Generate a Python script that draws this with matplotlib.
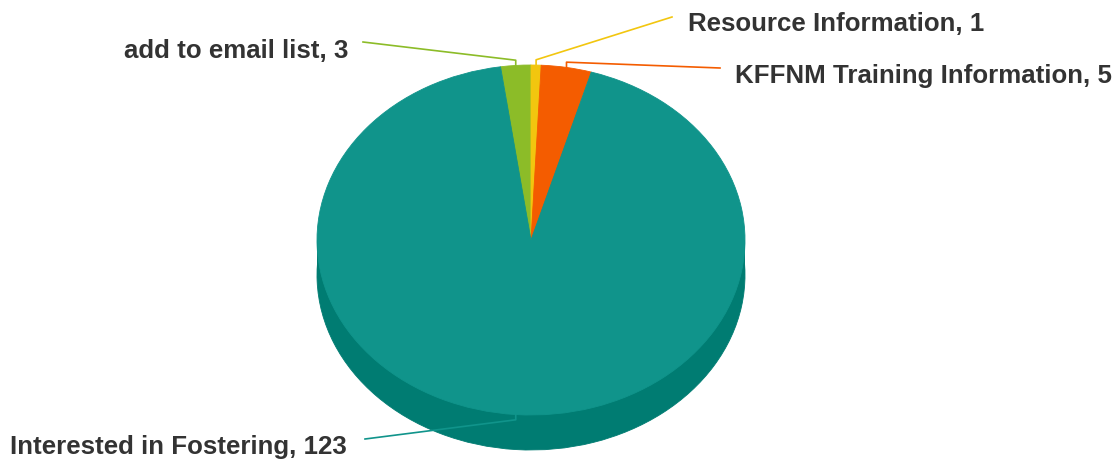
import numpy as np
import matplotlib
matplotlib.use('Agg')
import matplotlib.pyplot as plt
from matplotlib.patches import Rectangle

# slice data, in drawing order (clockwise)
labels = ['add to email list', 'Resource Information', 'KFFNM Training Information', 'Interested in Fostering']
values = [3, 1, 5, 123]
top_colors = ['#8cbc28', '#f2c60f', '#f45c00', '#10948b']
side_colors = ['#6f9a1c', '#c9a20a', '#c94b00', '#007c72']

# label text positions in pixels (left edge, vertical centre) and leader line ends
label_pos = [(124, 51), (688, 24), (735, 76), (10, 447)]
line_end = [(363, 42), (672, 17), (720, 68), (365, 439)]

W, H = 1120, 465
cx, cy = 531, 240      # pie centre in pixels
rx, ry = 214, 175      # ellipse radii of top face
depth = 35             # thickness in pixels

fig = plt.figure(figsize=(W / 100, H / 100), dpi=100)
ax = fig.add_axes([0, 0, 1, 1])


def to_data(x, y):
    return (x - cx) / rx, (cy - y) / ry


total = sum(values)
start = 90 + 360 * values[0] / total

# side (bottom layer) of the 3d pie
side, _ = ax.pie(values, colors=side_colors, startangle=start, counterclock=False,
                 center=(0, -depth / ry), radius=1)
for w, c in zip(side, side_colors):
    w.set_edgecolor(c)
    w.set_linewidth(0.6)
ax.add_patch(Rectangle((-1, -depth / ry), 2, depth / ry, facecolor=side_colors[3],
                       linewidth=0, zorder=1))

# top face
wedges, _ = ax.pie(values, colors=top_colors, startangle=start, counterclock=False,
                   center=(0, 0), radius=1)
for w, c in zip(wedges, top_colors):
    w.set_edgecolor(c)
    w.set_linewidth(0.6)
    w.set_zorder(3)

# leader lines and labels
fracs = np.cumsum([0] + values) / total
font = dict(family=['Liberation Sans', 'DejaVu Sans'],
            fontweight='bold', fontsize=18.6, color='#333333')
for i, lab in enumerate(labels):
    mid = np.radians(start - 360 * (fracs[i] + fracs[i + 1]) / 2)
    ex, ey = np.cos(mid), np.sin(mid)
    kx, ky = ex, ey + (0.03 if ey > 0 else -0.03)
    lx, ly = to_data(*line_end[i])
    ax.plot([ex, kx, lx], [ey, ky, ly], color=top_colors[i], lw=1.2, zorder=4)
    ax.text(*to_data(*label_pos[i]), f'{lab}, {values[i]}',
            ha='left', va='center', **font)

ax.set_aspect('auto')
x0, y1 = to_data(0, 0)
x1, y0 = to_data(W, H)
ax.set_xlim(x0, x1)
ax.set_ylim(y0, y1)
ax.axis('off')

fig.savefig('out.png', dpi=100)
